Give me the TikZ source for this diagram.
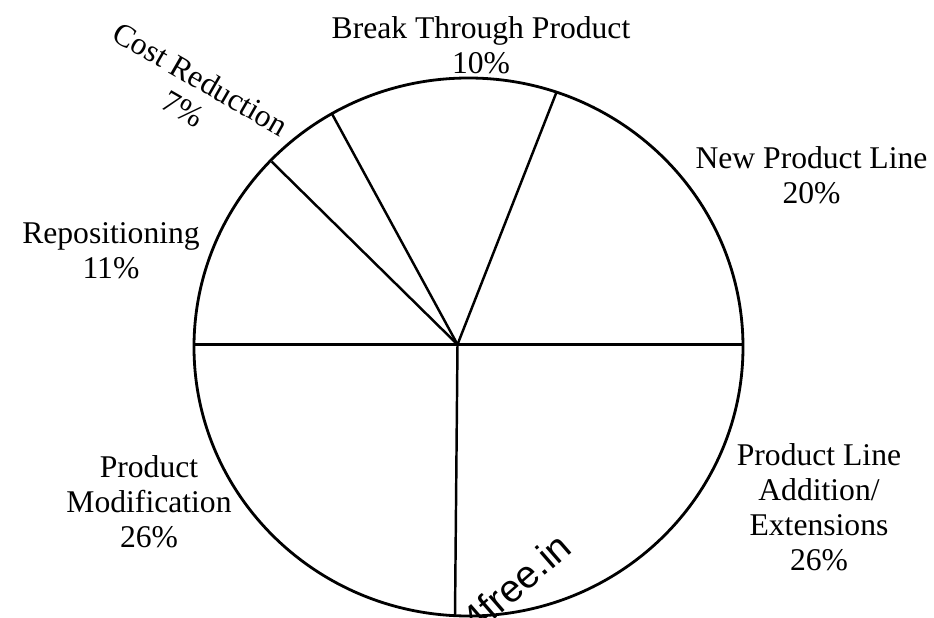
\documentclass[tikz,border=0pt]{standalone}
\usepackage{fontspec}
\setmainfont{Liberation Serif}
\newfontfamily\markfont{Liberation Sans}
\tikzset{
	rim/.style={line width=1.6pt},
	spoke/.style={line width=1.4pt},
	share/.style={align=center, font=\fontsize{18}{19.9}\selectfont},
}

\begin{document}
\begin{tikzpicture}[x=0.02cm, y=-0.02cm]
			%%%%% START %%%%%
			\useasboundingbox (0,0) rectangle (934,618);
			
			\draw[rim] (468.5,347) ellipse (274.5 and 269);
			
			\coordinate (hub) at (457.5,344.5);
			\coordinate (eRight) at (743,344.5);
			\coordinate (eNew) at (556.7,91.7);
			\coordinate (eBreak) at (331.7,113.3);
			\coordinate (eCost) at (271.7,161.7);
			\coordinate (eLeft) at (194,344.5);
			\coordinate (eBottom) at (455,616);
			
			\draw[spoke] (eLeft) -- (hub) -- (eRight);
			\draw[spoke] (hub) -- (eNew);
			\draw[spoke] (hub) -- (eBreak);
			\draw[spoke] (hub) -- (eCost);
			\draw[spoke] (hub) -- (eBottom);
			
			\node[share] (breakthrough) at (481,45) {Break Through Product\\10\%};
			\node[share] (newline) at (811.5,175) {New Product Line\\20\%};
			\node[share] (repos) at (111,251) {Repositioning\\11\%};
			\node[share] (modif) at (149,502) {Product\\Modification\\26\%};
			\node[share] (addition) at (819,507) {Product Line\\Addition/\\Extensions\\26\%};
			\node[share, rotate=-30] (cost) at (192,94) {Cost Reduction\\7\%};
			
			\node[font=\markfont\fontsize{22}{22}\selectfont, rotate=41] (mark) at (516,583) {4free.in};
			%%%%% END %%%%%
\end{tikzpicture}
\end{document}
